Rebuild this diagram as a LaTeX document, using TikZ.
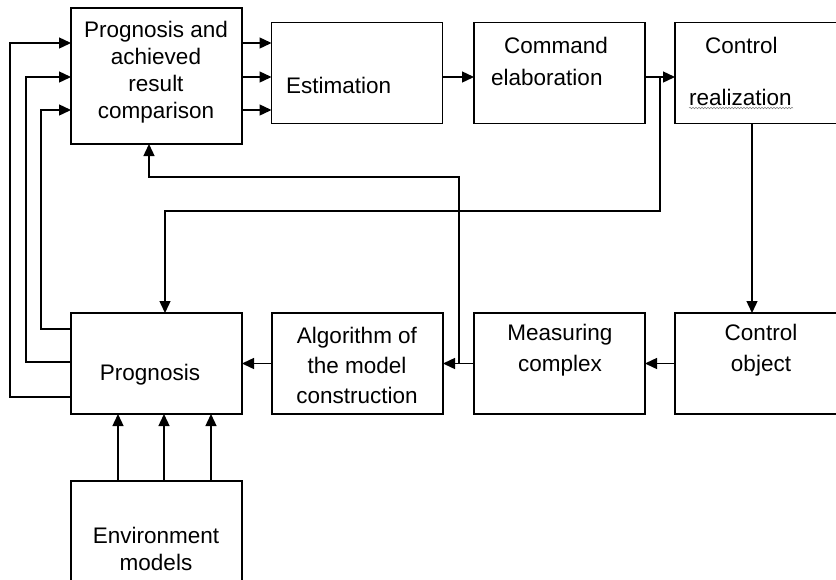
\documentclass[tikz,border=0pt]{standalone}
\usepackage{fontspec}
\setmainfont{Liberation Sans}
\usetikzlibrary{arrows.meta,decorations.pathmorphing}
\tikzset{
	box/.style={draw, line width=1.4pt, inner sep=0pt, outer sep=0pt, minimum width=171pt, minimum height=101pt},
	txt/.style={font=\fontsize{22.5}{27}\selectfont, inner sep=0pt, align=center},
	arr/.style={line width=1.4pt, -{Triangle[length=12pt,width=11pt]}},
	wavy/.style={draw=gray, line width=0.5pt, decorate, decoration={snake, amplitude=0.8pt, segment length=3pt}}
}
\begin{document}
\begin{tikzpicture}[x=1pt,y=-1pt]
		\useasboundingbox (0,0) rectangle (836,579);
		\fill[white] (0,0) rectangle (836,579);
		% top row
		\node[box, minimum height=136pt] (cmp) at (156.5,76) {};
		\node[box] (est) at (357,73) {};
		\node[box] (cmd) at (559.5,73) {};
		\node[box] (real) at (760.5,73) {};
		\node[txt] (cmptxt) at (156,72) {Prognosis and\\achieved\\result\\comparison};
		\node[txt, anchor=west] (esttxt) at (286,85) {Estimation};
		\node[txt, align=left, anchor=west] (cmdtxt) at (491,61) {\hspace*{13pt}Command\\[5pt]elaboration};
		\node[txt, align=left, anchor=west] (realtxt) at (689,71) {\hspace*{16pt}Control\\[25pt]realization};
		\draw[wavy] (689,108) -- (793,108);
		%
		% bottom row
		\node[box] (prog) at (156.5,363.5) {};
		\node[box] (alg) at (357.5,363.5) {};
		\node[box] (meas) at (559.5,363.5) {};
		\node[box] (obj) at (760.5,363.5) {};
		\node[box] (env) at (156.5,531.5) {};
		\node[txt] (progtxt) at (150,375) {Prognosis};
		\node[txt] (algtxt) at (357,365) {Algorithm of\\[3pt]the model\\[3pt]construction};
		\node[txt] (meastxt) at (560,350) {Measuring\\[4pt]complex};
		\node[txt] (objtxt) at (761,350) {Control\\[4pt]object};
		\node[txt] (envtxt) at (156,549) {Environment\\models};
		%
		% connectors
		\coordinate (cmdtap) at (660,77);
		\coordinate (meastap) at (459,363.5);
		\foreach \y in {43,77,110}
			\draw[arr] (cmp.east |- 0,\y) -- (est.west |- 0,\y);
		\draw[arr] (est.east |- 0,77) -- (cmd.west |- 0,77);
		\draw[arr] (cmd.east |- 0,77) -- (real.west |- 0,77);
		\draw[arr] (real.south -| 752,0) -- (obj.north -| 752,0);
		\draw[arr] (obj.west) -- (meas.east);
		\draw[arr] (meas.west) -- (alg.east);
		\draw[arr] (alg.west) -- (prog.east);
		\draw[arr] (cmdtap) -- (cmdtap |- 0,211) -| ([xshift=8.5pt]prog.north);
		\draw[arr] (meastap) -- (meastap |- 0,177) -| ([xshift=-7.5pt]cmp.south);
		\foreach \ya/\yb/\x in {329/110/41, 362/77/26, 397/43/10}
			\draw[arr] (prog.west |- 0,\ya) -| (\x,\yb) -- (cmp.west |- 0,\yb);
		\foreach \x in {118,164,211}
			\draw[arr] (env.north -| \x,0) -- (prog.south -| \x,0);
	\end{tikzpicture}
\end{document}
